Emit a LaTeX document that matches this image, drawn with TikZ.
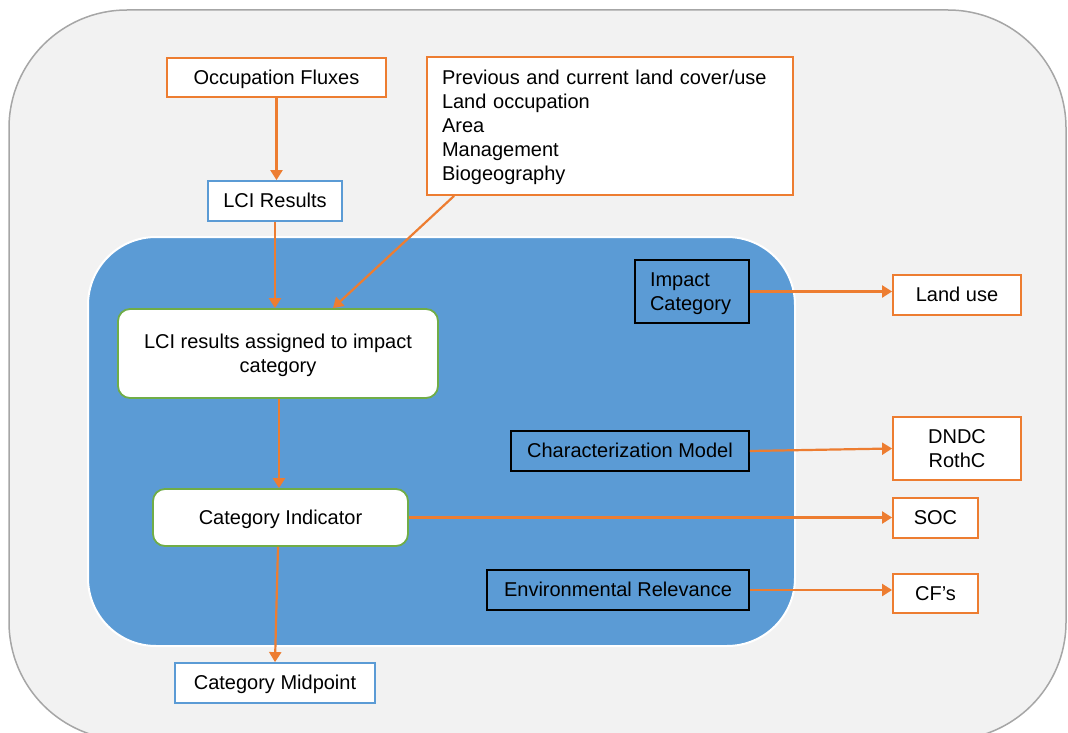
\documentclass[tikz,border=0pt]{standalone}
\usepackage{fontspec}
\setmainfont{Liberation Sans}
\usetikzlibrary{arrows.meta,calc}

\definecolor{flow}{HTML}{ED7D31}
\definecolor{lcaBlue}{HTML}{5B9BD5}
\definecolor{lcaGreen}{HTML}{70AD47}
\definecolor{frameFill}{HTML}{F2F2F2}
\definecolor{frameLine}{HTML}{A6A6A6}

% strut with the ascent and descent of the font, so that every line is
% centred on its font metrics rather than on its own glyphs
\newcommand{\lineStrut}{\rule[-4.3pt]{0pt}{22.4pt}}

\tikzset{
  base/.style={inner sep=0pt, font=\fontsize{20}{24}\selectfont, text=black, line width=1.8pt},
  obox/.style={base, draw=flow, fill=white},
  bbox/.style={base, draw=lcaBlue, fill=white},
  gbox/.style={base, draw=lcaGreen, fill=white, rounded corners=12pt},
  kbox/.style={base, draw=black, fill=lcaBlue},
  link/.style={draw=flow, line width=2.2pt, -{Triangle[length=10pt,width=12pt]}}
}

\begin{document}
\begin{tikzpicture}[x=1pt,y=-1pt]
\useasboundingbox (0,0) rectangle (1068,733);
\clip (0,0) rectangle (1068,733);

% outer frame and impact-assessment panel
\draw[fill=frameFill, draw=frameLine, line width=1.5pt, rounded corners=118pt]
  (9,10) rectangle (1066,740);
\draw[fill=lcaBlue, draw=white, line width=2pt, rounded corners=68pt]
  (88,237) rectangle (795,646);

% inputs
\node[obox, minimum width=219pt, minimum height=39pt] (occ) at (276.5,77.5) {\lineStrut Occupation Fluxes};
\node[bbox, minimum width=134pt, minimum height=40pt] (lci) at (275,201) {\lineStrut LCI Results};
\node[obox, minimum width=366pt, minimum height=138pt, text width=336pt, align=left] (list) at (610,126)
  {\lineStrut Previous and current land cover/use\\\lineStrut Land occupation\\\lineStrut Area\\
   \lineStrut Management\\\lineStrut Biogeography};

% main chain
\node[gbox, minimum width=320pt, minimum height=89pt, align=center] (assign) at (278,353.5)
  {\lineStrut LCI results assigned to impact\\\lineStrut category};
\node[gbox, minimum width=255pt, minimum height=57pt] (ci) at (280.5,517.5) {\lineStrut Category Indicator};
\node[bbox, minimum width=200pt, minimum height=40pt] (mid) at (275,683) {\lineStrut Category Midpoint};

% labels inside the panel
\node[kbox, minimum width=114pt, minimum height=63pt, text width=84pt, align=left] (ic) at (692,291.5)
  {\lineStrut Impact\\\lineStrut Category};
\node[kbox, minimum width=238pt, minimum height=40pt] (cm) at (630,451) {\lineStrut Characterization Model};
\node[kbox, minimum width=262pt, minimum height=40pt] (er) at (618,590) {\lineStrut Environmental Relevance};

% outputs
\node[obox, minimum width=128pt, minimum height=40pt] (land) at (957,295) {\lineStrut Land use};
\node[obox, minimum width=128pt, minimum height=63pt, align=center] (dndc) at (957,448.5)
  {\lineStrut DNDC\\\lineStrut RothC};
\node[obox, minimum width=85pt, minimum height=40pt] (soc) at (935.5,518) {\lineStrut SOC};
\node[obox, minimum width=85pt, minimum height=39pt] (cf) at (935.5,593.5) {\lineStrut CF’s};

% connectors
\draw[link] (occ.south) -- (occ.south |- lci.north);
\draw[link] (lci.south) -- (lci.south |- assign.north);
\draw[link] ([xshift=28pt]list.south west) -- ([xshift=55pt]assign.north);
\draw[link] ([xshift=1pt]assign.south) -- ([xshift=-1.5pt]ci.north);
\draw[link] ([xshift=-2.5pt]ci.south) -- (mid.north);
\draw[link] (ic.east) -- (ic.east -| land.west);
\draw[link] (cm.east) -- (dndc.west);
\draw[link] (ci.east) -- (ci.east -| soc.west);
\draw[link] (er.east) -- (er.east -| cf.west);
\end{tikzpicture}
\end{document}
